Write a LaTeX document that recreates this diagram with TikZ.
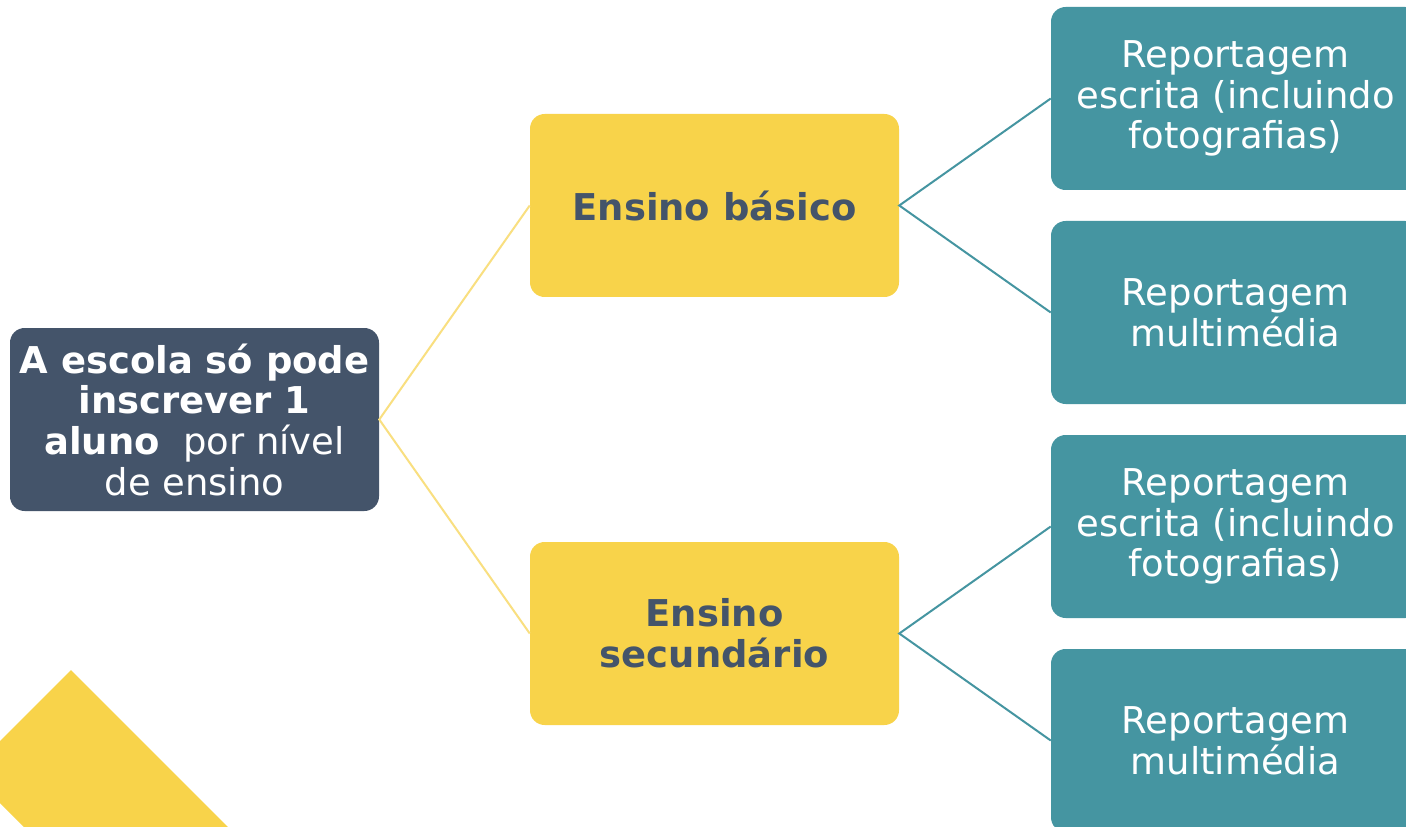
\documentclass[tikz,border=0pt]{standalone}
\usepackage{fontspec}
\setmainfont{DejaVu Sans}
\definecolor{slate}{HTML}{44546A}
\definecolor{gold}{HTML}{F8D34A}
\definecolor{goldline}{HTML}{F9DF80}
\definecolor{teal}{HTML}{4595A1}
\tikzset{
  box/.style={rounded corners=11pt, minimum width=276.75pt, minimum height=137.25pt,
    align=center, inner sep=0pt, font=\fontsize{27.7}{30.5}\selectfont},
  rootbox/.style={box, fill=slate, text=white},
  levelbox/.style={box, fill=gold, text=slate, font=\fontsize{27.7}{30.5}\selectfont\bfseries},
  leafbox/.style={box, fill=teal, text=white},
  goldlink/.style={draw=goldline, line width=1.5pt},
  teallink/.style={draw=teal, line width=1.5pt}
}
\begin{document}
\begin{tikzpicture}[x=0.75pt, y=-0.75pt]
\clip (0,0) rectangle (1406,827);
\fill[white] (0,0) rectangle (1406,827);
% decorative diamond
\fill[gold] (71,670) -- (371,970) -- (269,1072) -- (-31,772) -- cycle;
\node[rootbox] (root) at (194.5,419.5) {\textbf{A escola só pode}\\\textbf{inscrever 1}\\\textbf{aluno}\ \ por nível\\de ensino};
\node[levelbox] (basico) at (714.5,205.5) {Ensino básico};
\node[levelbox] (secund) at (714.5,633.5) {Ensino\\secundário};
\node[leafbox] (b1) at (1235.5,98.5) {Reportagem\\escrita (incluindo\\fotografias)};
\node[leafbox] (b2) at (1235.5,312.5) {Reportagem\\multimédia};
\node[leafbox] (s1) at (1235.5,526.5) {Reportagem\\escrita (incluindo\\fotografias)};
\node[leafbox] (s2) at (1235.5,740.5) {Reportagem\\multimédia};
\draw[goldlink] (basico.west) -- (root.east) -- (secund.west);
\draw[teallink] (b1.west) -- (basico.east) -- (b2.west);
\draw[teallink] (s1.west) -- (secund.east) -- (s2.west);
\end{tikzpicture}
\end{document}
